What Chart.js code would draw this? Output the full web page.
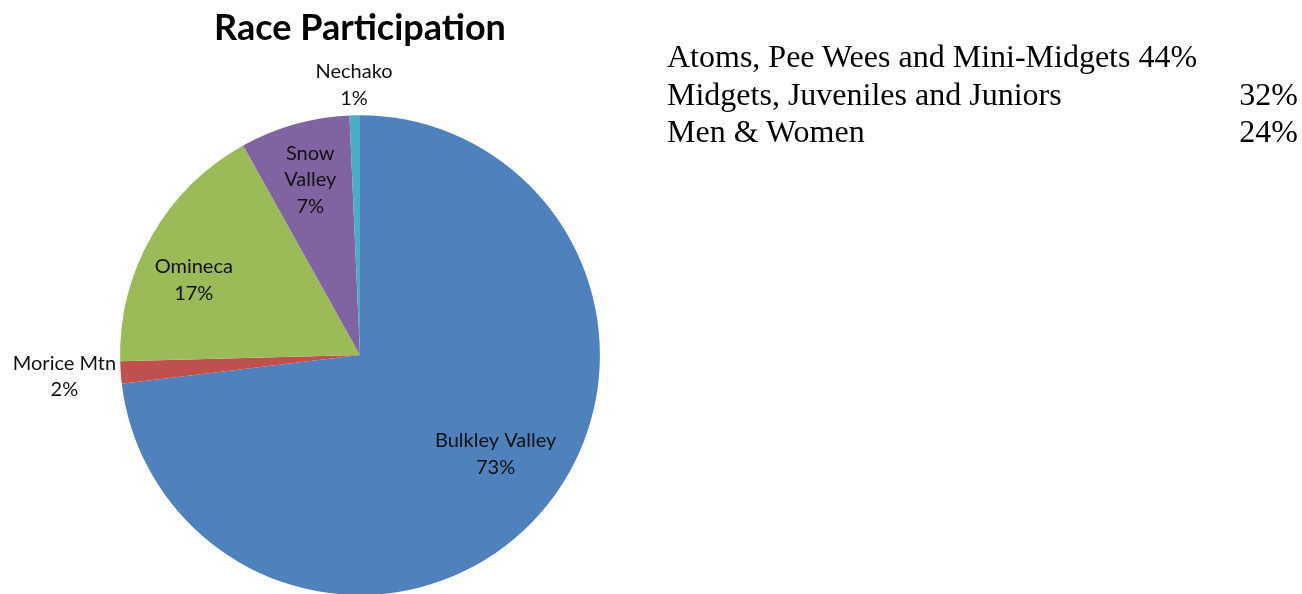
<!DOCTYPE html>
<html>
<head>
<meta charset="utf-8">
<script src="https://cdn.jsdelivr.net/npm/chart.js@4/dist/chart.umd.min.js"></script>
<style>
  html, body { margin: 0; padding: 0; background: #fff; overflow: hidden; width: 1302px; height: 594px; }
  #wrap { position: absolute; left: 0; top: 0; width: 720px; height: 600px; }
  #side { position: absolute; left: 667px; top: 38px; font-family: "Liberation Serif", "Times New Roman", serif; font-size: 32px; color: #000; line-height: 37.5px; }
  #side .row { position: relative; width: 631px; height: 37.5px; white-space: nowrap; }
  #side .pct { position: absolute; right: 0; top: 0; }
  #side .pct.inline { position: static; margin-left: 8px; }
</style>
</head>
<body>
<div id="wrap"><canvas id="c"></canvas></div>
<div id="side"></div>
<script>
// ---- data ----
const categories = ["Bulkley Valley", "Morice Mtn", "Omineca", "Snow Valley", "Nechako"];
const values = [73.1, 1.5, 17.3, 7.4, 0.7];
const colors = ["#4F81BD", "#C0504D", "#9BBB59", "#8064A2", "#4BACC6"];
const chartTitle = "Race Participation";
const groupNames = ["Atoms, Pee Wees and Mini-Midgets", "Midgets, Juveniles and Juniors", "Men & Women"];
const groupPercents = ["44%", "32%", "24%"];

// side text
const side = document.getElementById('side');
groupNames.forEach((n, i) => {
  const row = document.createElement('div');
  row.className = 'row';
  row.appendChild(document.createTextNode(n));
  const p = document.createElement('span');
  p.className = 'pct' + (i === 0 ? ' inline' : '');
  p.textContent = groupPercents[i];
  row.appendChild(p);
  side.appendChild(row);
});

const labelFont = '20px "Lato", "Open Sans", sans-serif';
const lineH = 26.5;

const labelPlugin = {
  id: 'pieLabels',
  afterDatasetsDraw(chart) {
    const ctx = chart.ctx;
    const meta = chart.getDatasetMeta(0);
    const data = chart.data.datasets[0].data;
    const total = data.reduce((a, b) => a + b, 0);
    ctx.save();
    ctx.font = labelFont;
    ctx.fillStyle = '#111';
    ctx.textAlign = 'center';
    ctx.textBaseline = 'middle';
    meta.data.forEach((arc, i) => {
      const frac = data[i] / total;
      const pct = Math.round(frac * 100) + '%';
      const name = chart.data.labels[i];
      let mid = (arc.startAngle + arc.endAngle) / 2;
      const r = arc.outerRadius;
      let lines;
      if (frac >= 0.03 && frac < 0.10) {
        lines = name.split(' ').concat([pct]);
      } else {
        lines = [name, pct];
      }
      const w = Math.max(...lines.map(l => ctx.measureText(l).width));
      const h = lines.length * lineH;
      let cx, cy;
      if (frac < 0.03) {
        const dx = Math.cos(mid), dy = Math.sin(mid);
        const d = r + Math.abs(dx) * w / 2 + Math.abs(dy) * h / 2 + 3;
        cx = arc.x + dx * d; cy = arc.y + dy * d;
      } else {
        if (frac > 0.10) mid -= 0.095; // best-fit bias
        const dx = Math.cos(mid), dy = Math.sin(mid);
        const d = r * (frac > 0.5 ? 0.70 : 0.76);
        cx = arc.x + dx * d; cy = arc.y + dy * d;
      }
      lines.forEach((l, k) => {
        ctx.fillText(l, cx, cy - h / 2 + lineH / 2 + k * lineH);
      });
    });
    ctx.restore();
  }
};

new Chart(document.getElementById('c'), {
  type: 'pie',
  data: {
    labels: categories,
    datasets: [{ data: values, backgroundColor: colors, borderWidth: 0 }]
  },
  options: {
    responsive: true,
    maintainAspectRatio: false,
    animation: false,
    layout: { padding: { top: 0, bottom: 5, left: 0, right: 0 } },
    plugins: {
      legend: { display: false },
      tooltip: { enabled: false },
      title: {
        display: true,
        text: chartTitle,
        color: '#000',
        font: { family: '"Lato", "Open Sans", sans-serif', size: 36, weight: 'bold' },
        padding: { top: 7, bottom: 65 }
      }
    }
  },
  plugins: [labelPlugin]
});
</script>
</body>
</html>
